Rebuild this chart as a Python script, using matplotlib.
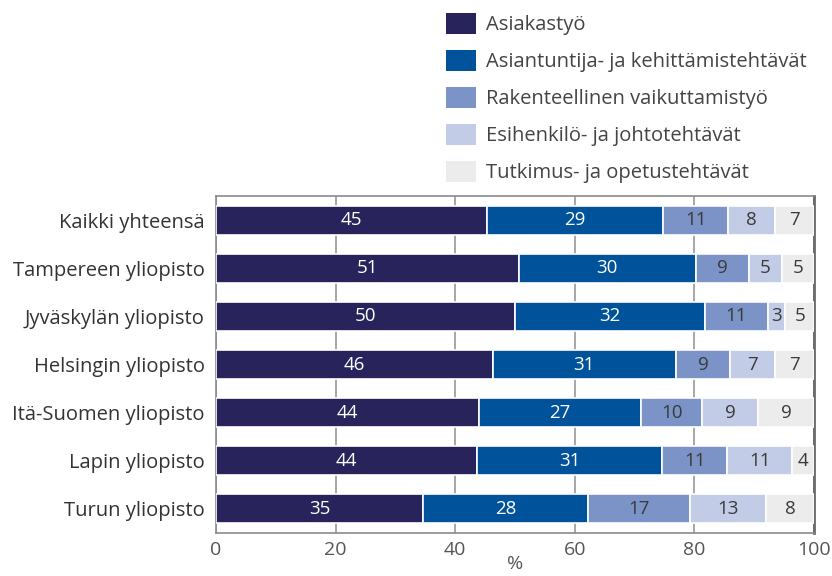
import matplotlib
matplotlib.use('Agg')
import matplotlib.pyplot as plt
from matplotlib.patches import Patch
import numpy as np

plt.rcParams['font.family'] = ['Open Sans', 'DejaVu Sans']

universities = ['Kaikki yhteensä', 'Tampereen yliopisto', 'Jyväskylän yliopisto',
                'Helsingin yliopisto', 'Itä-Suomen yliopisto', 'Lapin yliopisto',
                'Turun yliopisto']
series = ['Asiakastyö', 'Asiantuntija- ja kehittämistehtävät',
          'Rakenteellinen vaikuttamistyö', 'Esihenkilö- ja johtotehtävät',
          'Tutkimus- ja opetustehtävät']

# shares (%) per university
asiakastyo = [45.3, 50.6, 50.0, 46.3, 43.9, 43.7, 34.6]
asiantuntija = [29.4, 29.6, 31.7, 30.6, 27.2, 30.9, 27.6]
rakenteellinen = [11.0, 9.0, 10.6, 9.1, 10.2, 10.9, 17.1]
esihenkilo = [7.7, 5.4, 2.9, 7.4, 9.4, 10.9, 12.7]
tutkimus = [6.6, 5.4, 4.8, 6.6, 9.3, 3.6, 8.0]

xticks = [0, 20, 40, 60, 80, 100]

colors = ['#29235c', '#00529b', '#7b93c6', '#c3cce6', '#ececec']
text_colors = ['white', 'white', '#3a3a3a', '#3a3a3a', '#3a3a3a']

fig = plt.figure(figsize=(8.32, 5.76), dpi=100)
ax = fig.add_axes([216 / 832, 1 - 533 / 576, 598 / 832, 337 / 576])

y = np.arange(len(universities))
left = np.zeros(len(universities))
for vals, name, col, tcol in zip([asiakastyo, asiantuntija, rakenteellinen, esihenkilo, tutkimus],
                                 series, colors, text_colors):
    vals = np.array(vals)
    ax.barh(y, vals, left=left, height=0.6, color=col, edgecolor='white',
            linewidth=1.2, label=name, zorder=3)
    for yi, l, v in zip(y, left, vals):
        ax.text(l + v / 2, yi, f'{round(v):d}', ha='center', va='center',
                color=tcol, fontsize=13.5, zorder=4)
    left += vals

ax.set_xlim(0, 100)
ax.set_ylim(len(universities) - 0.5, -0.5)
ax.set_xticks(xticks)
ax.set_xticklabels([str(t) for t in xticks])
ax.set_yticks(y)
ax.set_yticklabels(universities)
ax.tick_params(axis='both', length=0, labelsize=14)
ax.tick_params(axis='y', labelsize=14.5)
ax.tick_params(axis='x', colors='#555555', pad=6)
ax.tick_params(axis='y', colors='#333333', pad=8)
ax.xaxis.grid(True, color='#a0a0a0', linewidth=1.3, zorder=0)
ax.set_axisbelow(True)
for s in ['left', 'top', 'bottom']:
    ax.spines[s].set_color('#8a8a8a')
    ax.spines[s].set_linewidth(1.2)
ax.spines['right'].set_color('#6a6a6a')
ax.spines['right'].set_linewidth(2)
ax.set_xlabel('%', fontsize=14, color='#555555', labelpad=-3)

handles = [Patch(facecolor=c, edgecolor='none') for c in colors]
fig.legend(handles, series, loc='upper left', bbox_to_anchor=(446 / 832, 1 - 13 / 576),
           frameon=False, fontsize=14.5, handlelength=1.5, handleheight=1.2,
           handletextpad=0.5, labelspacing=0.74, borderpad=0, borderaxespad=0,
           labelcolor='#444444')

fig.savefig('out.png', dpi=100)
